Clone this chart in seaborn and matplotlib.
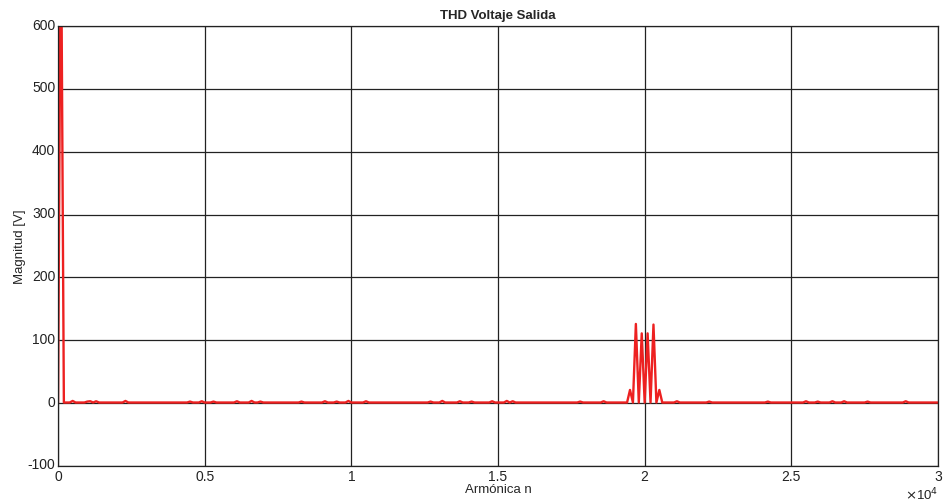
import numpy as np
import pandas as pd
import matplotlib
matplotlib.use('Agg')
import matplotlib.pyplot as plt
import matplotlib.transforms as mtransforms
import seaborn as sns

# spectrum sampled every 100 harmonics, 0..30000
n_step = 100
n_max = 30000
baseline = 1.0

# main components (harmonic, magnitude)
peak_n = [100, 19500, 19700, 19900, 20100, 20300, 20500]
peak_mag = [800, 21, 126, 111, 111, 125, 21]

# small ripple bumps along the floor
bump_n = [500, 1000, 1100, 1300, 2300, 4500, 4900, 5300, 6100, 6600, 6900,
          8300, 9100, 9500, 9900, 10500, 12700, 13100, 13700, 14100, 14800,
          15300, 15500, 17800, 18600, 21100, 22200, 24200, 25500, 25900,
          26400, 26800, 27600, 28900]
bump_mag = [3.5, 2.5, 3, 3, 3.5, 2.5, 3, 2.5, 3, 3.5, 2.5,
            2.5, 3, 2.5, 3.5, 3, 2.5, 3.5, 3, 2.5, 3,
            3.5, 3, 2.5, 3, 3, 2.5, 2.5, 3, 2.5,
            3, 3, 2.5, 3]

n = np.arange(0, n_max + n_step, n_step)
mag = np.full(len(n), baseline)
mag[0] = 0
for h, m in zip(bump_n + peak_n, bump_mag + peak_mag):
    mag[h // n_step] = m

df = pd.DataFrame({'Armonica': n, 'Magnitud': mag})

sns.set_style('white')
plt.rcParams['font.family'] = ['Liberation Sans', 'DejaVu Sans']
plt.rcParams['axes.unicode_minus'] = False

fig = plt.figure(figsize=(9.45, 5.02), dpi=100)
ax = fig.add_axes([58 / 945, 1 - 467 / 502, 880 / 945, 440 / 502])

sns.lineplot(data=df, x='Armonica', y='Magnitud', color=(0.93, 0.13, 0.13),
             linewidth=1.7, ax=ax)

ax.set_xlim(0, 30000)
ax.set_ylim(-100, 600)
ax.set_xticks(np.arange(0, 30001, 5000))
ax.set_xticklabels(['0', '0.5', '1', '1.5', '2', '2.5', '3'])
ax.set_yticks(np.arange(-100, 601, 100))
ax.set_yticklabels([str(v) for v in range(-100, 601, 100)])
ax.tick_params(direction='in', length=0, labelsize=10, colors='#222222', pad=2)

# y tick labels sit slightly above their gridline
off = mtransforms.ScaledTranslation(0, 3 / 100, fig.dpi_scale_trans)
for lab in ax.get_yticklabels():
    lab.set_transform(lab.get_transform() + off)

ax.grid(True, color='#222222', linewidth=0.9)
for s in ax.spines.values():
    s.set_color('#222222')
    s.set_linewidth(0.9)

ax.set_title('THD Voltaje Salida', fontsize=9.5, fontweight='bold', pad=6)
ax.set_xlabel('Armónica n', fontsize=9.5, labelpad=0)
ax.set_ylabel('Magnitud [V]', fontsize=9.5, labelpad=1)
ax.text(1.0, -0.045, r'$\times$10$^{4}$', transform=ax.transAxes,
        ha='right', va='top', fontsize=9.5, color='#222222')

fig.savefig('out.png', dpi=100)
